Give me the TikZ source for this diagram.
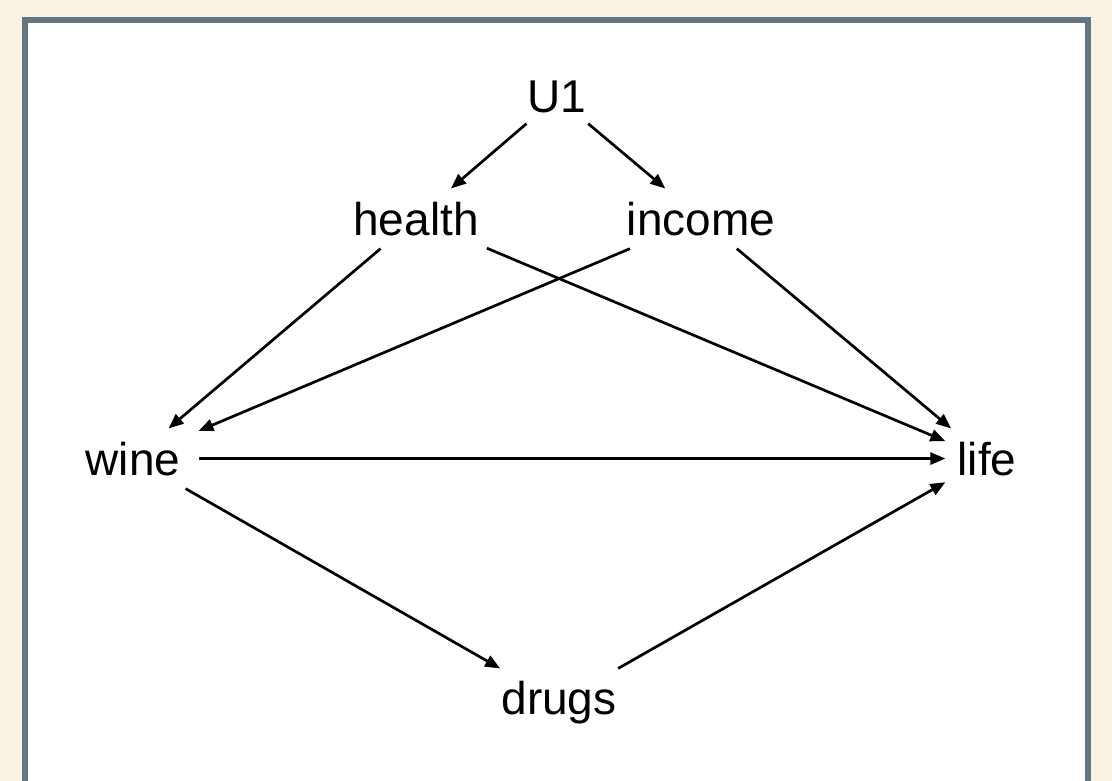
\documentclass[tikz,border=0pt]{standalone}
\usepackage{fontspec}
\setmainfont{Liberation Sans}
\usetikzlibrary{arrows.meta}
\definecolor{cream}{HTML}{FAF3E1}
\definecolor{framecol}{HTML}{627782}
\begin{document}
\begin{tikzpicture}[x=1pt,y=-1pt,
  lbl/.style={anchor=base,inner xsep=8pt,inner ysep=13pt,font=\fontsize{46}{50}\selectfont},
  edge/.style={line width=2.7pt,-{Triangle[length=15pt,width=12pt]}}]
\useasboundingbox (0,0) rectangle (1112,781);
\fill[cream] (0,0) rectangle (1112,781);
\begin{scope}
\clip (0,0) rectangle (1112,781);
\filldraw[fill=white,draw=framecol,line width=6pt] (25,20) rectangle (1088,784);
\end{scope}
\node[lbl,inner ysep=10pt] (u1) at (557,113) {U1};
\node[lbl] (health) at (416,235) {health};
\node[lbl] (income) at (701,235) {income};
\node[lbl,inner xsep=18pt] (wine) at (133,475) {wine};
\node[lbl,inner xsep=12pt] (life) at (987,475) {life};
\node[lbl,inner ysep=12pt,inner xsep=10pt] (drugs) at (559,714) {drugs};
\draw[edge] (u1) -- (health);
\draw[edge] (u1) -- (income);
\draw[edge] (health) -- (wine);
\draw[edge] (health) -- (life);
\draw[edge] (income) -- (wine);
\draw[edge] (income) -- (life);
\draw[edge] (wine) -- (life);
\draw[edge] (wine) -- (drugs);
\draw[edge] (drugs) -- (life);
\end{tikzpicture}
\end{document}
